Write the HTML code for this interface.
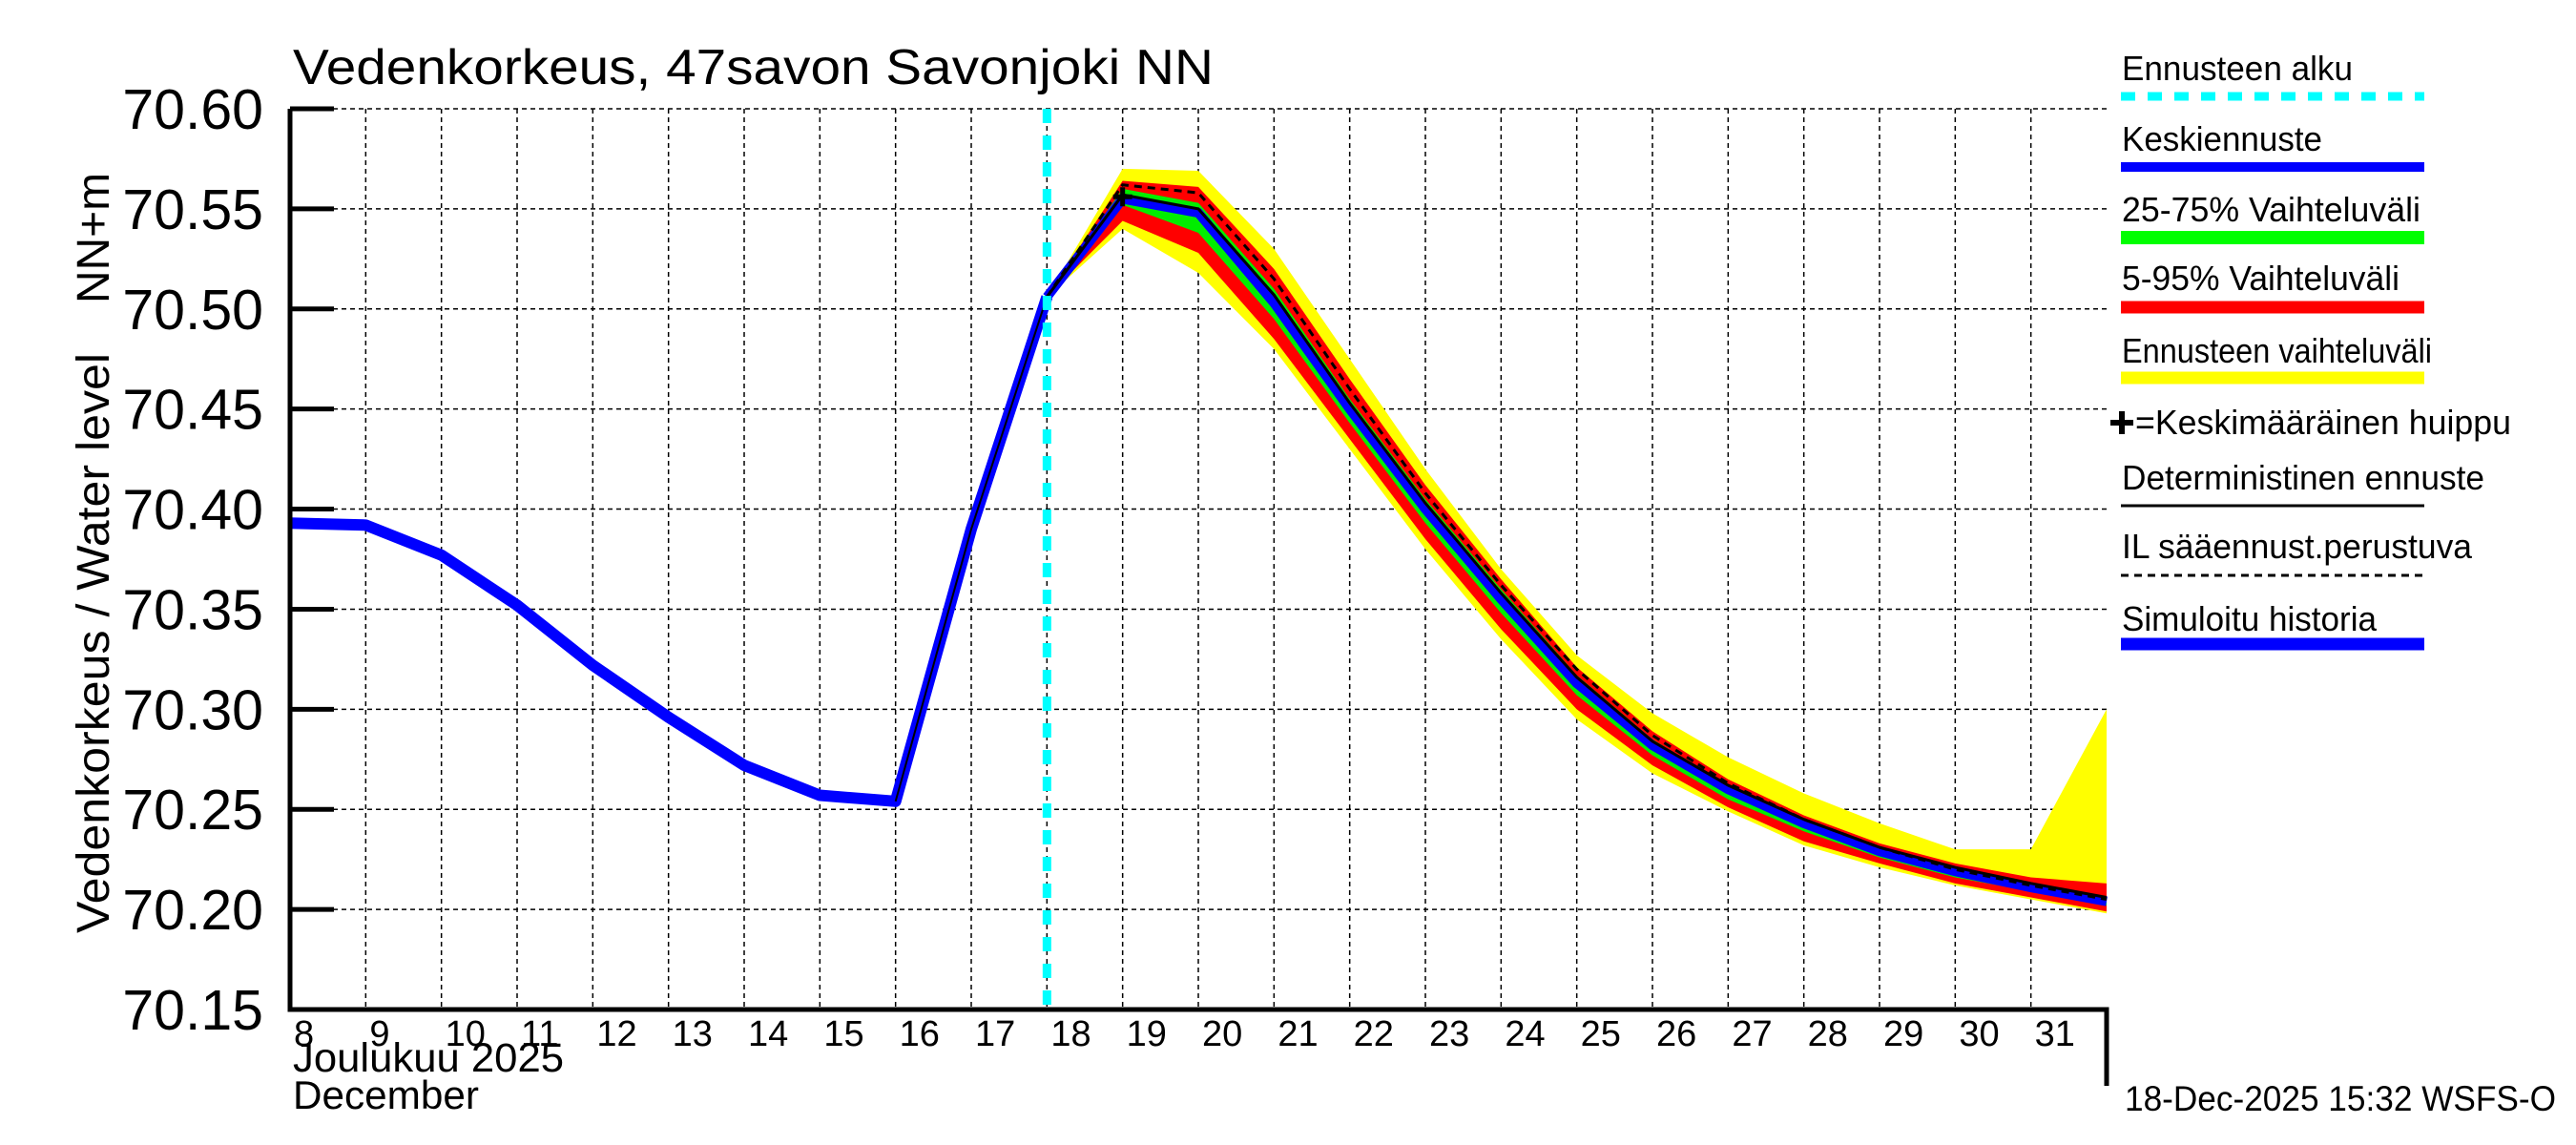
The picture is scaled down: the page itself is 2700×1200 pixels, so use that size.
<!DOCTYPE html>
<html><head><meta charset="utf-8"><style>
html,body{margin:0;padding:0;background:#fff}
svg{display:block;font-family:"Liberation Sans",Arial,sans-serif}
</style></head><body>
<svg id="c" width="2700" height="1200" viewBox="0 0 2700 1200" xmlns="http://www.w3.org/2000/svg"></svg>
<script>
const yTicks=[70.60,70.55,70.50,70.45,70.40,70.35,70.30,70.25,70.20,70.15];
const xDays=[8,9,10,11,12,13,14,15,16,17,18,19,20,21,22,23,24,25,26,27,28,29,30,31];
const histDays=[8,9,10,11,12,13,14,15,16,17,18];
const histVals=[70.393,70.392,70.377,70.352,70.322,70.296,70.272,70.257,70.254,70.39,70.506];
const fcDays=[18,19,20,21,22,23,24,25,26,27,28,29,30,31,32];
const median=[70.506,70.555,70.548,70.503,70.450,70.400,70.355,70.313,70.282,70.260,70.243,70.229,70.219,70.211,70.204];
const yelHi=[70.506,70.570,70.569,70.530,70.475,70.420,70.370,70.327,70.298,70.276,70.258,70.243,70.230,70.230,70.300];
const yelLo=[70.506,70.540,70.518,70.480,70.430,70.380,70.335,70.295,70.268,70.249,70.232,70.221,70.212,70.205,70.198];
const redHi=[70.506,70.564,70.561,70.520,70.465,70.412,70.365,70.321,70.289,70.265,70.247,70.233,70.223,70.216,70.213];
const redLo=[70.506,70.544,70.528,70.485,70.435,70.385,70.340,70.300,70.272,70.251,70.234,70.223,70.213,70.206,70.199];
const grnHi=[70.506,70.560,70.553,70.510,70.455,70.405,70.360,70.317,70.285,70.262,70.245,70.231,70.221,70.213,70.206];
const grnLo=[70.506,70.552,70.538,70.495,70.443,70.393,70.348,70.307,70.277,70.255,70.239,70.226,70.216,70.209,70.202];
const determ=[70.506,70.557,70.550,70.507,70.453,70.403,70.358,70.316,70.284,70.262,70.245,70.231,70.221,70.213,70.206];
const ilDash=[70.506,70.562,70.558,70.515,70.460,70.408,70.362,70.320,70.287,70.263,70.245,70.231,70.220,70.212,70.205];
const peakDay=[19];
const peakVal=[70.556];
const fcStart=[18.0];

const L=304,R=2208,T=114,B=1058;
const X=d=>L+(d-8)*(R-L)/24;
const Y=v=>B-(v-70.15)*(B-T)/0.45;
const NS="http://www.w3.org/2000/svg";
const svg=document.getElementById('c');
function mk(tag,attrs,txt){const e=document.createElementNS(NS,tag);for(const k in attrs)e.setAttribute(k,attrs[k]);if(txt!==undefined)e.textContent=txt;svg.appendChild(e);return e;}
function pts(ds,vs){return ds.map((d,i)=>X(d)+','+Y(vs[i])).join(' ');}
function band(hi,lo){return fcDays.map((d,i)=>X(d)+','+Y(hi[i])).concat(fcDays.slice().reverse().map((d,j)=>X(d)+','+Y(lo[lo.length-1-j]))).join(' ');}

yTicks.forEach(v=>{const g=mk('line',{x1:L,x2:R,y1:Y(v),y2:Y(v),stroke:'#000','stroke-width':1.5,'stroke-dasharray':'5,4'});

});
xDays.forEach(d=>{const g=mk('line',{x1:X(d),x2:X(d),y1:T,y2:B,stroke:'#000','stroke-width':1.5,'stroke-dasharray':'5,4'});

});

let e;
e=mk('polygon',{points:band(yelHi,yelLo),fill:'#ffff00'});


e=mk('polygon',{points:band(redHi,redLo),fill:'#ff0000'});


e=mk('polygon',{points:band(grnHi,grnLo),fill:'#00ee00'});


e=mk('polyline',{points:pts(fcDays,median),fill:'none',stroke:'#0000ff','stroke-width':10});


e=mk('polyline',{points:pts(fcDays,determ),fill:'none',stroke:'#000','stroke-width':3});


e=mk('polyline',{points:pts(fcDays,ilDash),fill:'none',stroke:'#000','stroke-width':3,'stroke-dasharray':'8,6'});


e=mk('polyline',{points:pts(histDays,histVals),fill:'none',stroke:'#0000ff','stroke-width':12,'stroke-linejoin':'round'});


e=mk('polyline',{points:pts(histDays.slice(-3),histVals.slice(-3)),fill:'none',stroke:'#000','stroke-width':2});


e=mk('line',{x1:X(fcStart[0]),x2:X(fcStart[0]),y1:T,y2:B,stroke:'#00ffff','stroke-width':9,'stroke-dasharray':'15,13'});


e=mk('path',{d:`M${X(peakDay[0])-10},${Y(peakVal[0])}h20M${X(peakDay[0])},${Y(peakVal[0])-10}v20`,stroke:'#000','stroke-width':5});



e=mk('path',{d:`M${L},${T}V${B}H${R}V1138`,fill:'none',stroke:'#000','stroke-width':5});


yTicks.forEach(v=>{const t=mk('line',{x1:L,x2:L+46,y1:Y(v),y2:Y(v),stroke:'#000','stroke-width':5});


const l=mk('text',{x:276,y:Y(v)+21,'font-size':59,'text-anchor':'end'},v.toFixed(2));

});
xDays.forEach(d=>{const l=mk('text',{x:X(d)+4,y:1096,'font-size':38},String(d));

});

e=mk('text',{x:307,y:88,'font-size':52,textLength:965,lengthAdjust:'spacingAndGlyphs'},'Vedenkorkeus, 47savon Savonjoki NN');


e=mk('text',{x:0,y:0,'font-size':48,transform:'translate(114,978) rotate(-90)',textLength:608,lengthAdjust:'spacingAndGlyphs'},'Vedenkorkeus / Water level');


e=mk('text',{x:0,y:0,'font-size':48,transform:'translate(114,318) rotate(-90)',textLength:137,lengthAdjust:'spacingAndGlyphs'},'NN+m');


e=mk('text',{x:307,y:1123,'font-size':43,textLength:284,lengthAdjust:'spacingAndGlyphs'},'Joulukuu  2025');


e=mk('text',{x:307,y:1162,'font-size':42,textLength:195,lengthAdjust:'spacingAndGlyphs'},'December');


e=mk('text',{x:2227,y:1164,'font-size':37,textLength:452,lengthAdjust:'spacingAndGlyphs'},'18-Dec-2025 15:32 WSFS-O');



const legText=['Ennusteen alku','Keskiennuste','25-75% Vaihteluväli','5-95% Vaihteluväli','Ennusteen vaihteluväli','=Keskimääräinen huippu','Deterministinen ennuste','IL sääennust.perustuva','Simuloitu historia'];
const legBase=[84,158,232,304,380,455,513,585,661];
const legLen=[242,210,313,291,325,394,380,367,267];
const legLineY=[101,175,249,322,396,null,530,603,675];
const legStroke=['#00ffff','#0000ff','#00ff00','#ff0000','#ffff00',null,'#000','#000','#0000ff'];
const legW=[9,10,14,13,13,0,3,3,13];
legText.forEach((t,i)=>{
const tx=mk('text',{x:i===5?2238:2224,y:legBase[i],'font-size':36,textLength:legLen[i],lengthAdjust:'spacingAndGlyphs'},t);


if(legLineY[i]!==null){const a={x1:2223,x2:2541,y1:legLineY[i],y2:legLineY[i],stroke:legStroke[i],'stroke-width':legW[i]};
if(i===0)a['stroke-dasharray']='15,13';if(i===7)a['stroke-dasharray']='8,6';
const ln=mk('line',a);

}
});
e=mk('path',{d:'M2212,443h24M2224,431v24',stroke:'#000','stroke-width':6});


</script>
</body></html>
